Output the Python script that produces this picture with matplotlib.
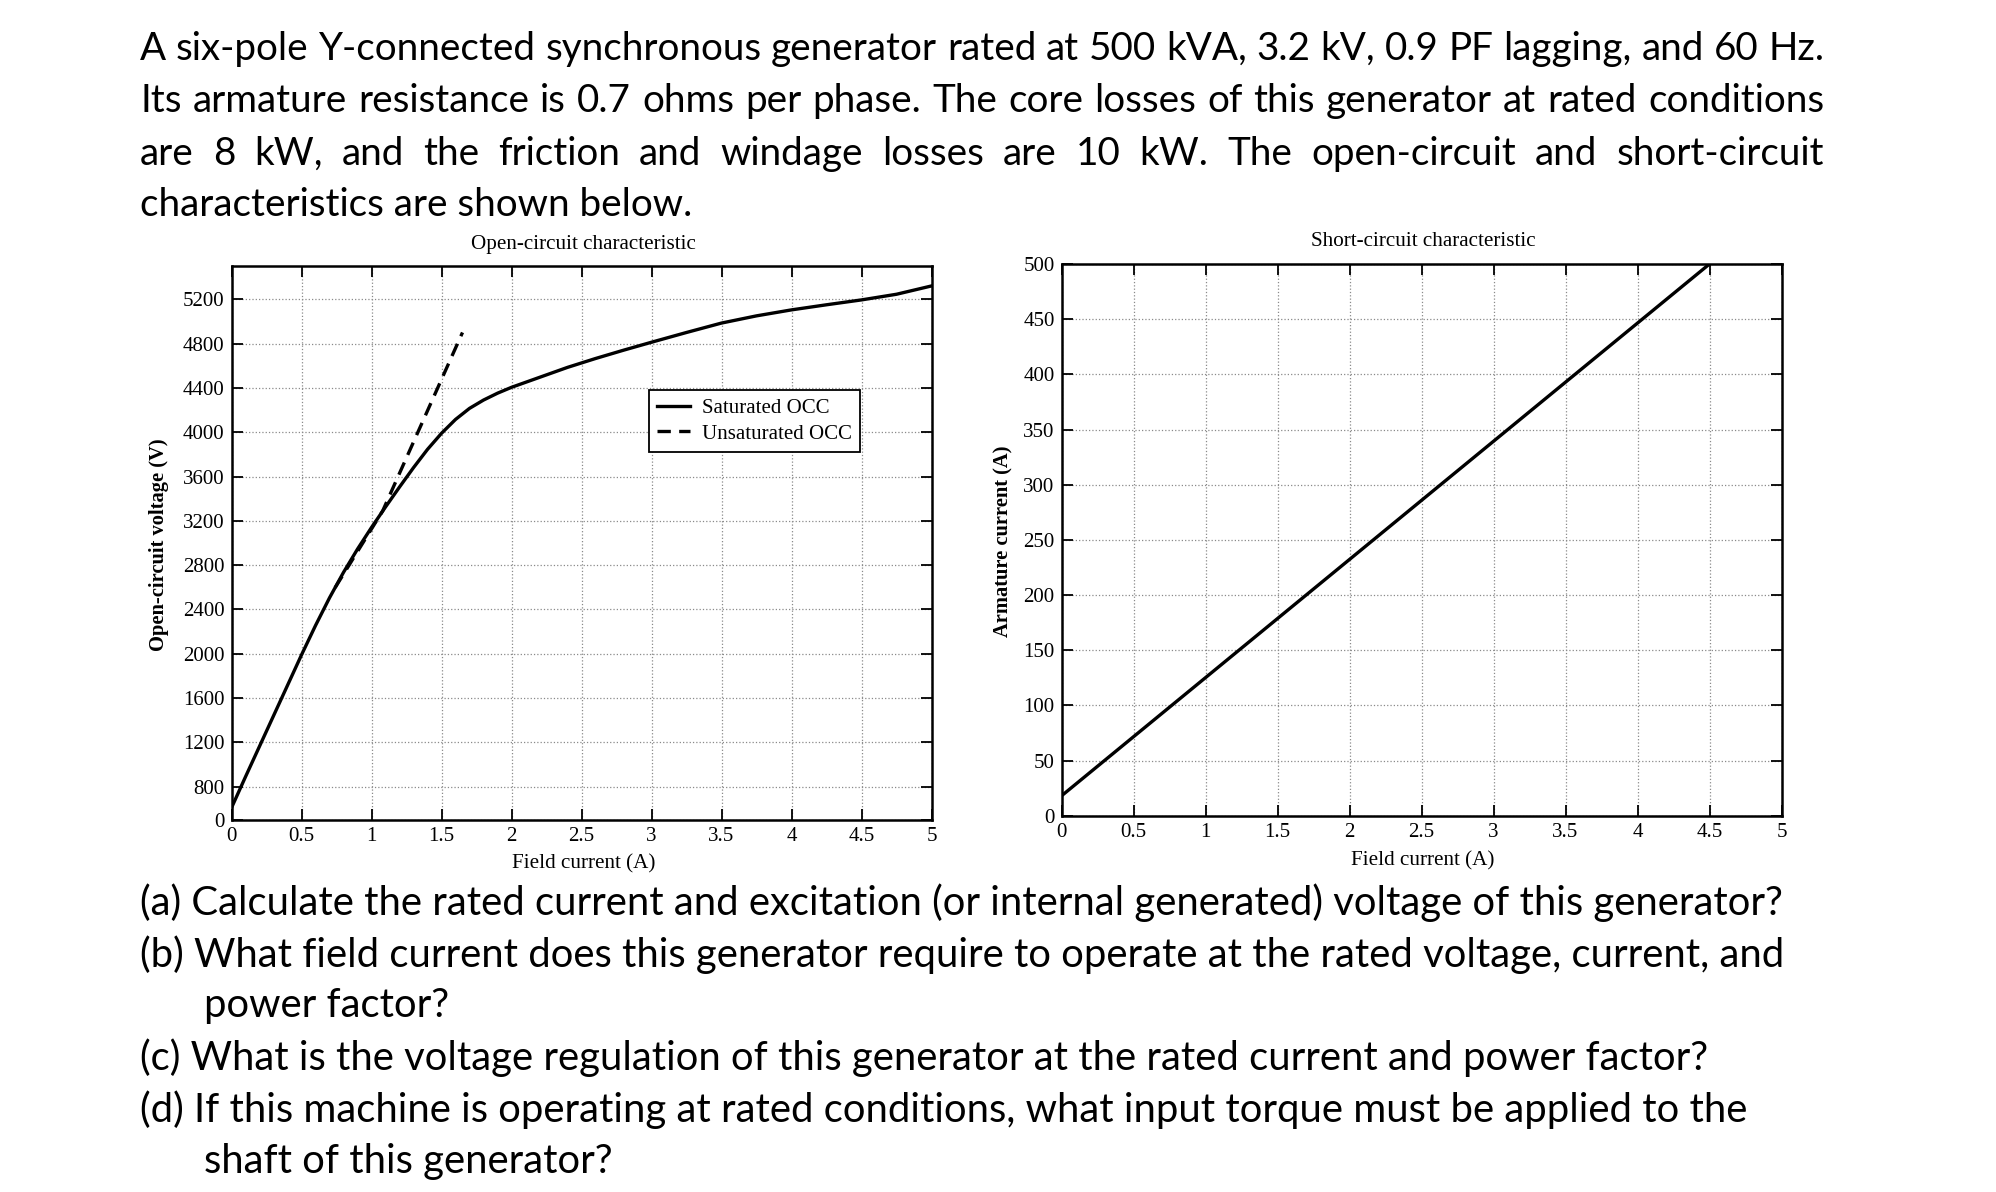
import numpy as np
import matplotlib.pyplot as plt

W, H = 1996, 1192

# problem statement text
intro_lines = [
    "A six-pole Y-connected synchronous generator rated at 500 kVA, 3.2 kV, 0.9 PF lagging, and 60 Hz.",
    "Its armature resistance is 0.7 ohms per phase. The core losses of this generator at rated conditions",
    "are 8 kW, and the friction and windage losses are 10 kW. The open-circuit and short-circuit",
    "characteristics are shown below.",
]
question_lines = [
    "(a) Calculate the rated current and excitation (or internal generated) voltage of this generator?",
    "(b) What field current does this generator require to operate at the rated voltage, current, and",
    "power factor?",
    "(c) What is the voltage regulation of this generator at the rated current and power factor?",
    "(d) If this machine is operating at rated conditions, what input torque must be applied to the",
    "shaft of this generator?",
]

# open-circuit characteristic
occ_if = [0, 0.1, 0.2, 0.3, 0.4, 0.5, 0.6, 0.7, 0.8, 0.9, 1.0, 1.1, 1.2, 1.3, 1.4,
          1.5, 1.6, 1.7, 1.8, 1.9, 2.0, 2.2, 2.4, 2.6, 2.8, 3.0, 3.25, 3.5, 3.75,
          4.0, 4.25, 4.5, 4.75, 5.0]
occ_v = [610, 890, 1165, 1440, 1715, 1990, 2255, 2505, 2735, 2945, 3140, 3325, 3505,
         3680, 3845, 3990, 4115, 4215, 4290, 4352, 4405, 4495, 4585, 4665, 4740, 4812,
         4900, 4985, 5050, 5104, 5150, 5194, 5245, 5320]
unsat_if = [0.74, 1.08, 1.65]
unsat_v = [2597, 3290, 4900]

# short-circuit characteristic
sc_if = [0, 4.5]
sc_ia = [18, 500]

x_ticks = [0, 0.5, 1, 1.5, 2, 2.5, 3, 3.5, 4, 4.5, 5]
x_labels = ["0", "0.5", "1", "1.5", "2", "2.5", "3", "3.5", "4", "4.5", "5"]
occ_ticks = [500, 800, 1200, 1600, 2000, 2400, 2800, 3200, 3600, 4000, 4400, 4800, 5200]
occ_labels = ["0", "800", "1200", "1600", "2000", "2400", "2800", "3200", "3600",
              "4000", "4400", "4800", "5200"]
sc_ticks = [0, 50, 100, 150, 200, 250, 300, 350, 400, 450, 500]

serif = "Liberation Serif"
sans = "Lato"

fig = plt.figure(figsize=(W / 100, H / 100), dpi=100)


def fx(x):
    return x / W


def fy(y):
    return 1 - y / H


def style_axes(ax):
    ax.grid(True, linestyle=":", color="#8a8a8a", linewidth=0.9)
    ax.tick_params(direction="in", top=True, right=True, length=8, width=1.3,
                   labelsize=15, pad=5)
    for s in ax.spines.values():
        s.set_linewidth(1.8)
    for lab in ax.get_xticklabels() + ax.get_yticklabels():
        lab.set_family(serif)


# left chart: OCC
ax1 = fig.add_axes([fx(231.5), fy(820), fx(700), 554 / H])
ax1.plot(occ_if, occ_v, color="black", lw=2.4, label="Saturated OCC")
ax1.plot(unsat_if, unsat_v, color="black", lw=2.4, ls=(0, (4, 2.5)), label="Unsaturated OCC")
ax1.set_xlim(0, 5)
ax1.set_ylim(500, 5500)
ax1.set_xticks(x_ticks, x_labels)
ax1.set_yticks(occ_ticks, occ_labels)
style_axes(ax1)
leg = ax1.legend(loc="upper left", bbox_to_anchor=(fx(649), fy(390)),
                 bbox_transform=fig.transFigure, borderaxespad=0, fancybox=False,
                 edgecolor="black", framealpha=1, handlelength=1.55, handletextpad=0.6,
                 prop={"family": serif, "size": 15}, borderpad=0.4, labelspacing=0.3)
leg.get_frame().set_linewidth(1.3)

# right chart: SCC
ax2 = fig.add_axes([fx(1061.5), fy(815.7), fx(720), 551.7 / H])
ax2.plot(sc_if, sc_ia, color="black", lw=2.4)
ax2.set_xlim(0, 5)
ax2.set_ylim(0, 500)
ax2.set_xticks(x_ticks, x_labels)
ax2.set_yticks(sc_ticks)
style_axes(ax2)

# chart titles and axis labels
fig.text(fx(583), fy(244), "Open-circuit characteristic", family=serif, size=15.2,
         ha="center", va="center")
fig.text(fx(1423), fy(241), "Short-circuit characteristic", family=serif, size=15.2,
         ha="center", va="center")
fig.text(fx(584), fy(864), "Field current (A)", family=serif, size=15.2, ha="center", va="center")
fig.text(fx(1423), fy(861), "Field current (A)", family=serif, size=15.2, ha="center", va="center")
fig.text(fx(159), fy(545), "Open-circuit voltage (V)", family=serif, size=14.8, weight="bold",
         rotation=90, ha="center", va="center")
fig.text(fx(1003), fy(541), "Armature current (A)", family=serif, size=14.8, weight="bold",
         rotation=90, ha="center", va="center")

# problem text
renderer = fig.canvas.get_renderer()
intro_size = 27.8
text_size = 28.8
left_px, right_px = 140, 1824
intro_base = [60, 112, 165, 216]
for i, (line, yb) in enumerate(zip(intro_lines, intro_base)):
    if i < 3:
        words = line.split(" ")
        objs = [fig.text(0, fy(yb), w, family=sans, size=intro_size, va="baseline")
                for w in words]
        widths = [o.get_window_extent(renderer).width for o in objs]
        gap = (right_px - left_px - sum(widths)) / (len(words) - 1)
        x = left_px
        for o, w in zip(objs, widths):
            o.set_x(fx(x))
            x += w + gap
    else:
        fig.text(fx(left_px), fy(yb), line, family=sans, size=intro_size, va="baseline")

q_base = [915, 967, 1017, 1070, 1122, 1173]
q_indent = [140, 140, 204, 140, 140, 204]
for line, yb, xl in zip(question_lines, q_base, q_indent):
    fig.text(fx(xl), fy(yb), line, family=sans, size=text_size, va="baseline")

fig.savefig("out.png", dpi=100)
